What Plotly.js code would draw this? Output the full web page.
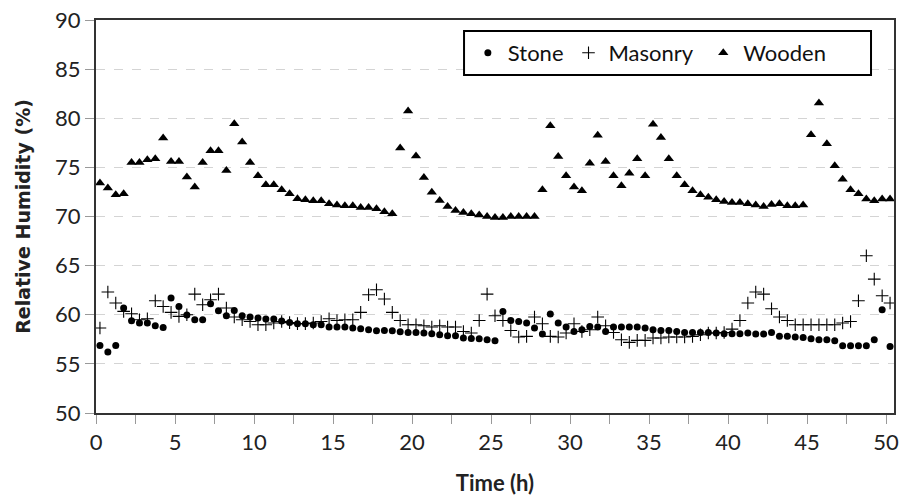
<!DOCTYPE html>
<html>
<head>
<meta charset="utf-8">
<script src="https://cdn.plot.ly/plotly-3.0.1.min.js"></script>
<style>html,body{margin:0;padding:0;background:#fff;}#chart{width:908px;height:504px;}</style>
</head>
<body>
<div id="chart"></div>
<script>
const time = [0.25,0.75,1.25,1.75,2.25,2.75,3.25,3.75,4.25,4.75,5.25,5.75,6.25,6.75,7.25,7.75,8.25,8.75,9.25,9.75,
10.25,10.75,11.25,11.75,12.25,12.75,13.25,13.75,14.25,14.75,15.25,15.75,16.25,16.75,17.25,17.75,18.25,18.75,19.25,19.75,
20.25,20.75,21.25,21.75,22.25,22.75,23.25,23.75,24.25,24.75,25.25,25.75,26.25,26.75,27.25,27.75,28.25,28.75,29.25,29.75,
30.25,30.75,31.25,31.75,32.25,32.75,33.25,33.75,34.25,34.75,35.25,35.75,36.25,36.75,37.25,37.75,38.25,38.75,39.25,39.75,
40.25,40.75,41.25,41.75,42.25,42.75,43.25,43.75,44.25,44.75,45.25,45.75,46.25,46.75,47.25,47.75,48.25,48.75,49.25,49.75,50.25];

const stone = [56.88,56.20,56.88,60.68,59.39,59.16,59.16,58.88,58.71,61.70,60.84,59.97,59.49,59.49,61.12,60.41,59.90,60.44,59.90,59.77,
59.66,59.56,59.56,59.36,59.22,59.08,59.08,58.98,58.98,58.75,58.75,58.75,58.65,58.58,58.47,58.37,58.40,58.37,58.27,58.20,
58.20,58.14,58.07,57.97,57.86,57.86,57.63,57.59,57.56,57.46,57.36,60.34,59.42,59.32,59.16,58.65,58.04,60.07,59.16,58.75,
58.30,58.47,58.81,58.75,58.30,58.75,58.75,58.75,58.75,58.65,58.47,58.40,58.40,58.30,58.20,58.20,58.20,58.20,58.14,58.07,
58.07,58.07,58.14,58.04,58.04,58.20,57.80,57.80,57.73,57.69,57.56,57.46,57.46,57.36,56.85,56.85,56.85,56.85,57.46,60.51,56.78];

const masonry = [58.65,62.31,61.19,60.34,60.10,59.49,59.59,61.42,60.84,60.24,59.83,60.00,62.10,61.02,61.53,62.10,60.68,59.77,59.49,59.32,
58.98,58.98,59.16,59.32,59.20,59.10,59.10,59.16,59.32,59.59,59.42,59.49,59.49,60.24,62.03,62.54,61.60,60.24,59.42,58.98,
58.98,58.88,58.75,58.88,58.75,58.75,58.30,58.14,59.42,62.10,59.90,59.42,58.40,57.73,57.80,59.77,59.08,57.80,57.73,58.14,
59.08,58.30,58.47,59.77,58.88,58.20,57.46,57.19,57.39,57.39,57.63,57.63,57.73,57.73,57.73,57.80,57.97,58.14,58.14,58.20,
58.54,59.42,61.19,62.31,62.10,60.61,59.77,59.42,58.98,58.98,58.98,58.98,58.98,58.98,59.16,59.32,61.42,66.00,63.63,61.93,61.19];

const wooden = [73.40,72.89,72.21,72.31,75.49,75.49,75.77,75.87,77.98,75.60,75.60,74.01,72.99,75.49,76.68,76.68,74.68,79.43,77.57,75.49,
74.14,73.23,73.23,72.72,72.31,71.81,71.70,71.60,71.60,71.29,71.16,71.09,71.09,70.92,70.92,70.78,70.48,70.27,76.96,80.75,
76.17,73.97,72.48,71.63,71.02,70.61,70.41,70.27,70.14,70.00,69.90,69.90,70.00,70.00,70.00,70.00,72.72,79.23,76.10,74.14,
72.99,72.61,75.43,78.28,75.60,74.14,73.12,74.41,75.87,74.14,79.40,78.04,75.87,74.14,73.23,72.61,72.21,71.97,71.70,71.53,
71.43,71.43,71.29,71.16,71.02,71.22,71.29,71.09,71.09,71.16,78.31,81.54,77.40,75.16,73.80,72.72,72.31,71.77,71.60,71.77,71.77];

const xTicks = [0,5,10,15,20,25,30,35,40,45,50];
const yTicks = [50,55,60,65,70,75,80,85,90];

const FONT = 'Lato, "Open Sans", sans-serif';

const traces = [
  {x: time, y: stone, name: 'Stone', type: 'scatter', mode: 'markers',
   marker: {symbol: 'circle', size: 7, color: '#000'}},
  {x: time, y: masonry, name: 'Masonry\u00a0', type: 'scatter', mode: 'markers',
   marker: {symbol: 'cross-thin-open', size: 9, color: '#000', line: {width: 1.1, color: '#000'}}},
  {x: time, y: wooden, name: 'Wooden', type: 'scatter', mode: 'markers',
   marker: {symbol: 'triangle-up', size: 9, color: '#000'}}
];

const layout = {
  width: 908, height: 504,
  margin: {l: 96, r: 14, t: 20, b: 91},
  paper_bgcolor: '#fff', plot_bgcolor: '#fff',
  font: {family: FONT, color: '#222', size: 22},
  showlegend: true,
  legend: {
    orientation: 'h', x: 0.466, xanchor: 'left', y: 0.916, yanchor: 'middle',
    bgcolor: 'rgba(0,0,0,0)', borderwidth: 0,
    font: {family: FONT, size: 22, color: '#111'},
    itemwidth: 30, tracegroupgap: 0, valign: 'middle'
  },
  shapes: [{
    type: 'rect', xref: 'paper', yref: 'paper',
    x0: 0.4612, x1: 0.9712, y0: 0.860, y1: 0.972,
    fillcolor: '#fff', line: {color: '#000', width: 2}, layer: 'above'
  }],
  xaxis: {
    range: [0, 50.5], tickvals: xTicks, ticktext: xTicks.map(String),
    ticks: 'outside', ticklen: 9, tickcolor: '#999', tickwidth: 1,
    minor: {dtick: 2.5, tick0: 0, ticks: 'outside', ticklen: 9, tickcolor: '#999', showgrid: false},
    showgrid: false, zeroline: false,
    showline: true, linecolor: '#333', linewidth: 2, mirror: true,
    tickfont: {family: FONT, size: 22, color: '#222'},
    title: {text: '<b>Time (h)</b>', font: {family: FONT, size: 22, color: '#222'}, standoff: 21}
  },
  yaxis: {
    range: [50, 90], tickvals: yTicks, ticktext: yTicks.map(String),
    ticks: 'outside', ticklen: 9, tickcolor: '#999', tickwidth: 1,
    showgrid: true, gridcolor: '#d4d4d4', griddash: 'dash', gridwidth: 1,
    zeroline: false,
    showline: true, linecolor: '#333', linewidth: 2, mirror: true,
    tickfont: {family: FONT, size: 22, color: '#222'},
    title: {text: '<b>Relative Humidity (%)</b>', font: {family: '"DejaVu Sans", sans-serif', size: 19, color: '#222'}, standoff: 19}
  }
};

Plotly.newPlot('chart', traces, layout, {displayModeBar: false, staticPlot: true});
</script>
</body>
</html>
